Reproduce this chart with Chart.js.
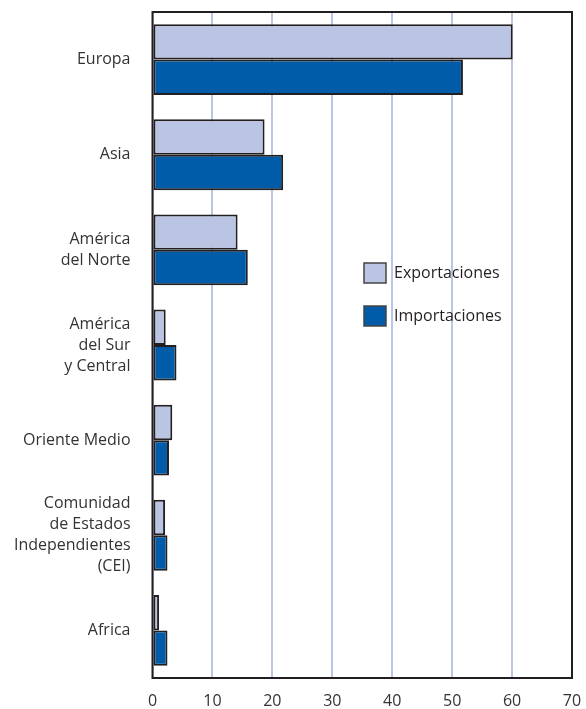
<!DOCTYPE html>
<html>
<head>
<meta charset="utf-8">
<script src="https://cdn.jsdelivr.net/npm/chart.js@4.4.0/dist/chart.umd.min.js"></script>
<style>
  body { margin: 0; background: #fff; }
  canvas { display: block; }
</style>
</head>
<body>
<canvas id="chart" width="586" height="709"></canvas>
<script>
// datos
const regiones = [
  'Europa',
  'Asia',
  ['América', 'del Norte'],
  ['América', 'del Sur', 'y Central'],
  'Oriente Medio',
  ['Comunidad', 'de Estados', 'Independientes', '(CEI)'],
  'Africa'
];
const exportaciones = [60.1, 18.7, 14.2, 2.2, 3.3, 2.1, 1.1];
const importaciones = [51.8, 21.8, 15.9, 4.0, 2.75, 2.5, 2.5];
const ticksX = [0, 10, 20, 30, 40, 50, 60, 70];

const borde = '#231f20';
const fuente = 'Open Sans';

// marco alrededor del area y leyenda dentro del grafico
const marcoYLeyenda = {
  id: 'marcoYLeyenda',
  afterDraw(chart) {
    const ctx = chart.ctx;
    const a = chart.chartArea;
    ctx.save();
    ctx.strokeStyle = borde;
    ctx.lineWidth = 2;
    ctx.strokeRect(a.left, a.top, a.right - a.left, a.bottom - a.top);

    let y = 263;
    chart.data.datasets.forEach(ds => {
      ctx.fillStyle = ds.backgroundColor;
      ctx.fillRect(364, y, 22, 20);
      ctx.lineWidth = 1.5;
      ctx.strokeStyle = '#444';
      ctx.strokeRect(364, y, 22, 20);
      ctx.fillStyle = '#231f20';
      ctx.font = '16px "' + fuente + '"';
      ctx.textBaseline = 'middle';
      ctx.textAlign = 'left';
      ctx.fillText(ds.label, 394, y + 10);
      y += 43;
    });
    ctx.restore();
  }
};

new Chart(document.getElementById('chart').getContext('2d'), {
  type: 'bar',
  data: {
    labels: regiones,
    datasets: [{
      label: 'Exportaciones',
      data: exportaciones,
      backgroundColor: '#bac5e3',
      borderColor: borde,
      borderWidth: 2,
      borderSkipped: false,
      categoryPercentage: 0.745,
      barPercentage: 1
    }, {
      label: 'Importaciones',
      data: importaciones,
      backgroundColor: '#005ca9',
      borderColor: borde,
      borderWidth: 2,
      borderSkipped: false,
      categoryPercentage: 0.745,
      barPercentage: 1
    }]
  },
  options: {
    indexAxis: 'y',
    responsive: false,
    animation: false,
    layout: { padding: { top: 12, right: 14, left: 0, bottom: 0 } },
    plugins: {
      legend: { display: false },
      tooltip: { enabled: false }
    },
    scales: {
      x: {
        min: 0,
        max: 70,
        afterBuildTicks(axis) {
          axis.ticks = ticksX.map(v => ({ value: v }));
        },
        afterFit(axis) {
          axis.height = 31;
          axis.paddingLeft = 0;
          axis.paddingRight = 0;
        },
        grid: { color: '#bcc6e4', lineWidth: 2, drawTicks: false },
        border: { display: false },
        ticks: {
          color: '#333',
          padding: 14,
          font: { family: fuente, size: 16 }
        }
      },
      y: {
        afterFit(axis) {
          axis.width = 152.5;
          axis.paddingTop = 0;
          axis.paddingBottom = 0;
        },
        grid: { display: false, drawTicks: false },
        border: { display: false },
        ticks: {
          color: '#333',
          padding: 22,
          font: { family: fuente, size: 16, lineHeight: 1.31 }
        }
      }
    }
  },
  plugins: [marcoYLeyenda]
});
</script>
</body>
</html>
